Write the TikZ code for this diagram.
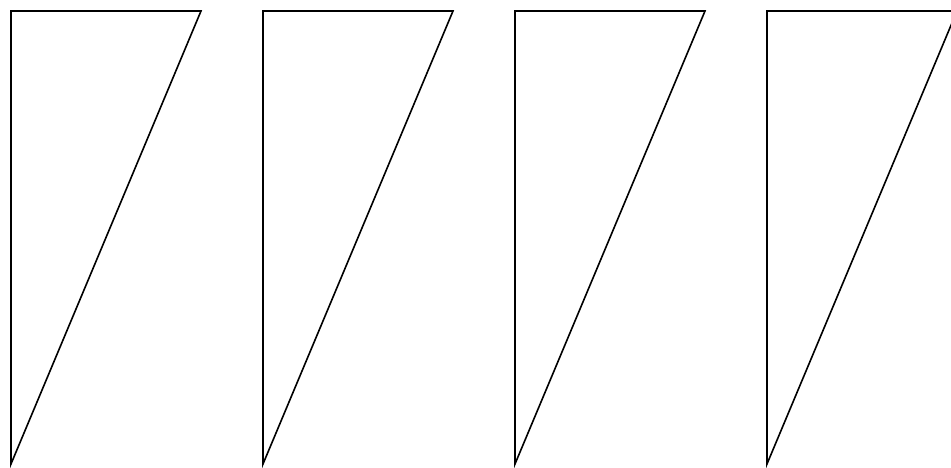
\documentclass[tikz,border=0pt]{standalone}
\begin{document}
\begin{tikzpicture}[x=1pt,y=-1pt,tri/.style={draw=black,line width=1.6pt,line join=miter}]
\useasboundingbox (0,0) rectangle (951,468);
\clip (0,0) rectangle (951,468);
\foreach \i in {0,1,2,3}{
  \draw[tri] ({11+252*\i},11) -- ({201+252*\i},11) -- ({11+252*\i},464) -- cycle;
}
\end{tikzpicture}
\end{document}
